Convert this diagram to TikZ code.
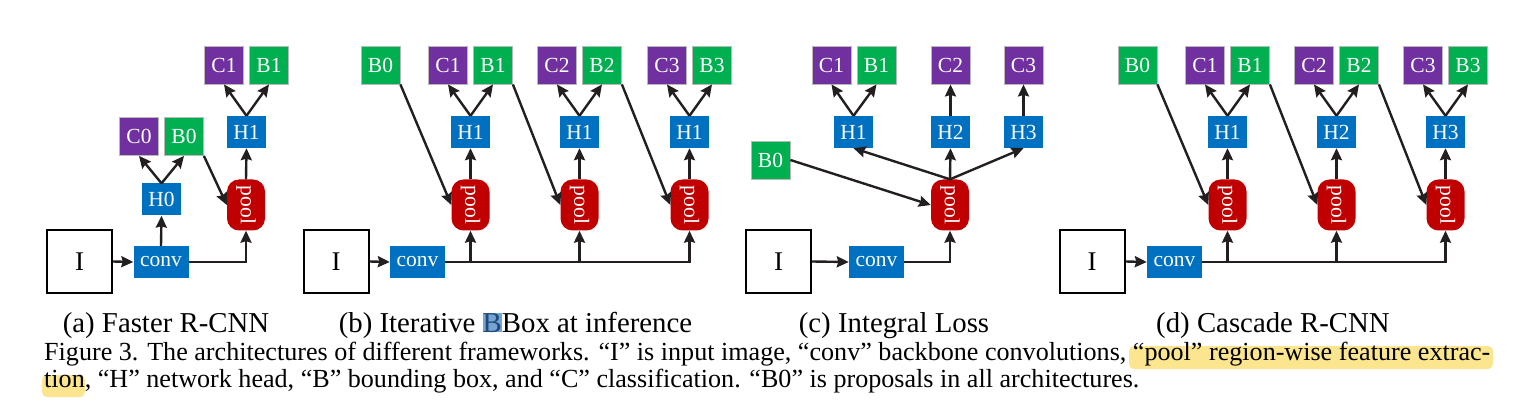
\documentclass[tikz,border=0pt]{standalone}
\usepackage{fontspec}
\setmainfont{Liberation Serif}
\usetikzlibrary{arrows.meta}
\definecolor{cpur}{HTML}{7030A0}
\definecolor{bgrn}{HTML}{00B050}
\definecolor{hblu}{HTML}{0070C0}
\definecolor{pred}{HTML}{C00000}
\definecolor{linec}{HTML}{231F20}
\definecolor{hlyel}{HTML}{FCE58F}
\definecolor{selb}{HTML}{74A4D3}
\definecolor{selt}{HTML}{1F4A78}
\begin{document}
\begin{tikzpicture}[x=1pt,y=-1pt,
  bx/.style={inner sep=0pt, text=white, font=\fontsize{21.5}{21.5}\selectfont},
  cbox/.style={bx, fill=cpur, draw=gray!55, line width=0.8pt, minimum width=39pt, minimum height=38pt},
  bbox/.style={cbox, fill=bgrn},
  hbox/.style={bx, fill=hblu, minimum width=39pt, minimum height=32pt},
  convbox/.style={bx, fill=hblu, minimum width=55pt, minimum height=32pt},
  poolbox/.style={bx, fill=pred, rounded corners=12pt, minimum width=38pt, minimum height=51pt},
  ibox/.style={draw=black, line width=2pt, minimum width=65pt, minimum height=63pt, inner sep=0pt, font=\fontsize{27}{27}\selectfont},
  arr/.style={draw=linec, line width=2.4pt, -{Stealth[length=12pt,width=11pt,inset=1.5pt]}},
  subcap/.style={anchor=base, inner sep=0pt, font=\fontsize{28.8}{28.8}\selectfont},
  captxt/.style={anchor=base west, inner sep=0pt, font=\fontsize{26.1}{26.1}\selectfont},
  hl/.style={fill=hlyel, rounded corners=5pt},
]
\useasboundingbox (0,0) rectangle (1513,406);
\fill[white] (0,0) rectangle (1513,406);

% ---------- panel (a)
\node[ibox] (Ia) at (79.5,261.5) {I};
\node[convbox] (cva) at (161,262) {conv};
\node[hbox] (H0a) at (161.5,199.5) {H0};
\node[cbox] (C0a) at (139,136.5) {C0};
\node[bbox] (B0a) at (184,136.5) {B0};
\node[poolbox] (pa) at (246,205) {\rotatebox{-90}{pool}};
\node[hbox] (H1a) at (246.5,132) {H1};
\node[cbox] (C1a) at (224,65) {C1};
\node[bbox] (B1a) at (269,65) {B1};
\draw[arr] (Ia.east) -- (cva.west);
\draw[arr] (cva.north) -- (H0a.south);
\draw[arr] (H0a.north) -- (C0a.south);
\draw[arr] (H0a.north) -- (B0a.south);
\draw[arr] (B0a.south east) -- (pa.west);
\draw[arr] (cva.east) -| (pa.south);
\draw[arr] (pa.north) -- (H1a.south);
\draw[arr] (H1a.north) -- (C1a.south);
\draw[arr] (H1a.north) -- (B1a.south);

% ---------- panel (b)
\node[ibox] (Ib) at (336,261.5) {I};
\node[convbox] (cvb) at (417.5,262) {conv};
\node[bbox] (B0b) at (380.5,65) {B0};
\foreach \i/\x in {1/470.5,2/579.5,3/689.5}{
  \node[poolbox] (pb\i) at (\x,205) {\rotatebox{-90}{pool}};
  \node[hbox] (Hb\i) at (\x,132) {H1};
  \node[cbox] (Cb\i) at (\x-22.5,65) {C\i};
  \node[bbox] (Bb\i) at (\x+22.5,65) {B\i};
  \draw[arr] (pb\i.north) -- (Hb\i.south);
  \draw[arr] (Hb\i.north) -- (Cb\i.south);
  \draw[arr] (Hb\i.north) -- (Bb\i.south);
}
\draw[arr] (Ib.east) -- (cvb.west);
\draw[arr] (cvb.east) -| (pb3.south);
\draw[arr] (pb1.south |- cvb.east) -- (pb1.south);
\draw[arr] (pb2.south |- cvb.east) -- (pb2.south);
\draw[arr] (B0b.south east) -- (pb1.west);
\draw[arr] (Bb1.south east) -- (pb2.west);
\draw[arr] (Bb2.south east) -- (pb3.west);

% ---------- panel (c)
\node[ibox] (Ic) at (778.5,261.5) {I};
\node[convbox] (cvc) at (876.5,262) {conv};
\node[bbox] (B0c) at (770.5,160) {B0};
\node[poolbox] (pc) at (950,205) {\rotatebox{-90}{pool}};
\node[hbox] (H1c) at (853.5,132) {H1};
\node[hbox] (H2c) at (950.5,132) {H2};
\node[hbox] (H3c) at (1023.5,132) {H3};
\node[cbox] (C1c) at (831.5,65) {C1};
\node[bbox] (B1c) at (876.5,65) {B1};
\node[cbox] (C2c) at (950.5,65) {C2};
\node[cbox] (C3c) at (1023.5,65) {C3};
\draw[arr] (Ic.east) -- (cvc.west);
\draw[arr] (cvc.east) -| (pc.south);
\draw[arr] (B0c.east) -- (pc.west);
\draw[arr] (pc.north) -- (H1c.south);
\draw[arr] (pc.north) -- (H2c.south);
\draw[arr] (pc.north) -- (H3c.south);
\draw[arr] (H1c.north) -- (C1c.south);
\draw[arr] (H1c.north) -- (B1c.south);
\draw[arr] (H2c.north) -- (C2c.south);
\draw[arr] (H3c.north) -- (C3c.south);

% ---------- panel (d)
\node[ibox] (Id) at (1092,261.5) {I};
\node[convbox] (cvd) at (1174.5,262) {conv};
\node[bbox] (B0d) at (1137.5,65) {B0};
\foreach \i/\x in {1/1227.5,2/1336.5,3/1445.5}{
  \node[poolbox] (pd\i) at (\x,205) {\rotatebox{-90}{pool}};
  \node[hbox] (Hd\i) at (\x,132) {H\i};
  \node[cbox] (Cd\i) at (\x-22.5,65) {C\i};
  \node[bbox] (Bd\i) at (\x+22.5,65) {B\i};
  \draw[arr] (pd\i.north) -- (Hd\i.south);
  \draw[arr] (Hd\i.north) -- (Cd\i.south);
  \draw[arr] (Hd\i.north) -- (Bd\i.south);
}
\draw[arr] (Id.east) -- (cvd.west);
\draw[arr] (cvd.east) -| (pd3.south);
\draw[arr] (pd1.south |- cvd.east) -- (pd1.south);
\draw[arr] (pd2.south |- cvd.east) -- (pd2.south);
\draw[arr] (B0d.south east) -- (pd1.west);
\draw[arr] (Bd1.south east) -- (pd2.west);
\draw[arr] (Bd2.south east) -- (pd3.west);

% ---------- captions
\node[subcap] (sa) at (166,332) {(a) Faster R-CNN};
\node[subcap] (sb) at (515.5,332) {(b) Iterative {\setlength{\fboxsep}{0pt}\colorbox{selb}{\textcolor{selt}{B}}}Box at inference};
\node[subcap] (sc) at (894,332) {(c) Integral Loss};
\node[subcap] (sd) at (1273,332) {(d) Cascade R-CNN};

\fill[hl] (1129,346) rectangle (1493,369);
\fill[hl] (42,375) rectangle (85,397);
\node[captxt] (c1) at (44,360) {\makebox[1446pt][s]{Figure 3. The architectures of different frameworks. “I” is input image, “conv” backbone convolutions, “pool” region-wise feature extrac-}};
\node[captxt] (c2) at (44,387) {tion, “H” network head, “B” bounding box, and “C” classification. “B0” is proposals in all architectures.};
\end{tikzpicture}
\end{document}
